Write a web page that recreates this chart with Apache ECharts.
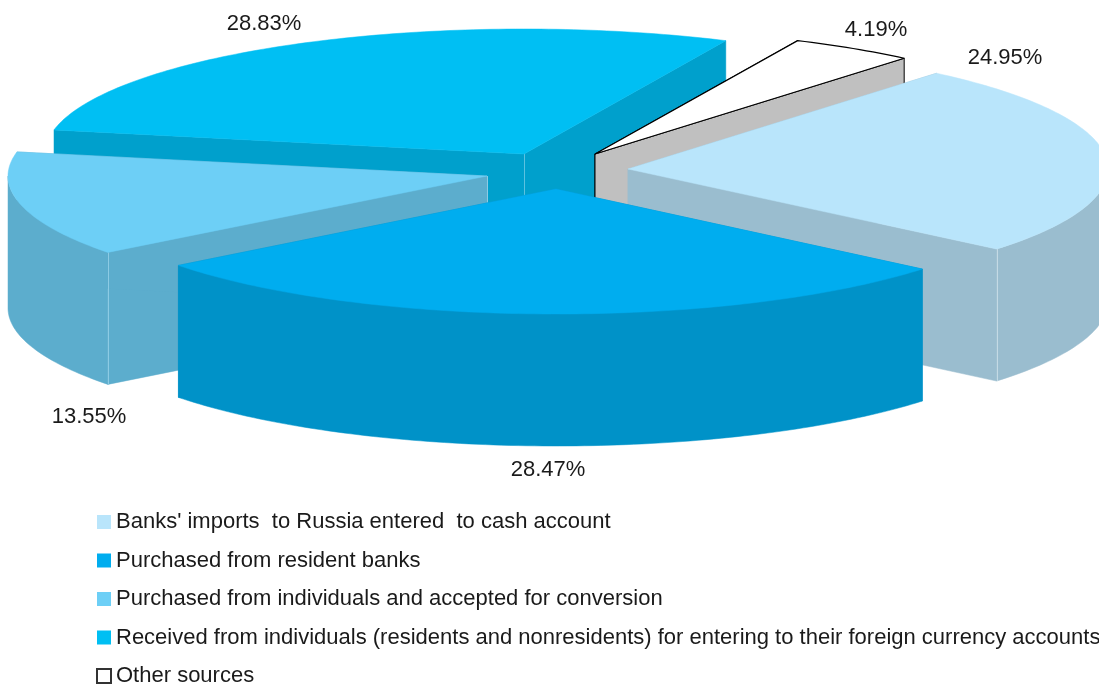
<!DOCTYPE html>
<html>
<head>
<meta charset="utf-8">
<style>html,body{margin:0;padding:0;background:#fff;overflow:hidden}#chart{width:1099px;height:684px}</style>
<script src="https://cdn.jsdelivr.net/npm/echarts@6/dist/echarts.min.js"></script>
</head>
<body>
<div id="chart"></div>
<script>
// Data
const categories = [
  "Banks' imports  to Russia entered  to cash account",
  "Purchased from resident banks",
  "Purchased from individuals and accepted for conversion",
  "Received from individuals (residents and nonresidents) for entering to their foreign currency accounts",
  "Other sources"
];
const shares = [24.95, 28.47, 13.55, 28.83, 4.19];

// Styles
const topColors  = ['#B9E5FB', '#00ADEF', '#6DCFF6', '#00BFF3', '#FFFFFF'];
const wallColors = ['#9ABDCF', '#0092C8', '#5CADCD', '#00A0CC', '#C0C0C0'];
const cornerColors = ['#C4DAE5', null, '#8CCBE4', '#5CC2E0', null];
const outlineColors = [null, null, null, null, '#000000'];

// Layout of the exploded 3D pie
const apexX = [628, 556, 487, 524, 595];
const apexY = [169, 189, 176, 154, 154];
const radiusX = [480, 477, 479, 479, 481];
const radiusY = 125;
const depth = 132;
const startDeg = -50;
const drawOrder = [5, 9, 6, 3, 4];
const labelX = [1005, 548, 89, 264, 876];
const labelY = [58, 470, 417, 24, 30];
const fontFamily = "'Liberation Sans', Arial, sans-serif";

const total = shares.reduce((a, b) => a + b, 0);
const rad = d => d * Math.PI / 180;

function renderSlice(i, api) {
  const value = api.value(0);
  const before = shares.slice(0, i).reduce((a, b) => a + b, 0);
  const a0 = startDeg + before / total * 360;
  const a1 = a0 + value / total * 360;
  const cx = apexX[i], cy = apexY[i], rx = radiusX[i];
  const pt = (deg, dz) => [cx + rx * Math.cos(rad(deg)), cy + radiusY * Math.sin(rad(deg)) + (dz || 0)];
  const arc = (from, to, dz) => {
    const out = [], n = Math.max(2, Math.ceil(Math.abs(to - from)));
    for (let k = 0; k <= n; k++) out.push(pt(from + (to - from) * k / n, dz));
    return out;
  };
  const wallStyle = { fill: wallColors[i], stroke: outlineColors[i] || wallColors[i], lineWidth: outlineColors[i] ? 1 : 0.5 };
  const children = [];
  // radial walls
  [a0, a1].forEach(a => {
    const p = pt(a);
    children.push({ type: 'polygon', shape: { points: [[cx, cy], p, [p[0], p[1] + depth], [cx, cy + depth]] }, style: wallStyle });
  });
  // front part of the rim
  const from = Math.max(a0, 0), to = Math.min(a1, 180);
  if (to > from) {
    children.push({ type: 'polygon', shape: { points: arc(from, to, 0).concat(arc(to, from, depth)) }, style: wallStyle });
  }
  // thin highlights on the vertical corners
  if (cornerColors[i]) {
    const corner = (x, y) => children.push({
      type: 'line', shape: { x1: x, y1: y, x2: x, y2: y + depth },
      style: { stroke: cornerColors[i], lineWidth: 1 }
    });
    if (i === 0) { const p = pt(a1); corner(Math.round(p[0]) + 0.5, p[1]); }
    if (i === 2) { const p = pt(a0); corner(Math.round(p[0]) + 0.5, p[1]); corner(cx + 0.5, cy); }
    if (i === 3) { corner(cx + 0.5, cy); }
  }
  // top face
  children.push({
    type: 'polygon',
    shape: { points: [[cx, cy]].concat(arc(a0, a1, 0)) },
    style: { fill: topColors[i], stroke: outlineColors[i] || topColors[i], lineWidth: outlineColors[i] ? 1.2 : 0.5, lineJoin: 'round' }
  });
  // percentage label
  children.push({
    type: 'text',
    style: {
      x: labelX[i], y: labelY[i], text: value.toFixed(2) + '%',
      fill: '#1a1a1a', font: "22px " + fontFamily, align: 'center', verticalAlign: 'middle'
    }
  });
  return { type: 'group', children };
}

const series = categories.map((name, i) => ({
  type: 'custom',
  name,
  coordinateSystem: 'none',
  z: drawOrder[i],
  silent: true,
  clip: false,
  data: [[shares[i]]],
  itemStyle: outlineColors[i]
    ? { color: topColors[i], borderColor: '#333333', borderWidth: 0.7 }
    : { color: topColors[i] },
  renderItem: (params, api) => renderSlice(i, api)
}));

const chart = echarts.init(document.getElementById('chart'), null, { renderer: 'canvas' });
chart.setOption({
  backgroundColor: '#fff',
  animation: false,
  legend: {
    orient: 'vertical',
    left: 96,
    top: 511,
    width: 1100,
    height: 190,
    padding: 0,
    itemWidth: 14,
    itemHeight: 14,
    itemGap: 16.5,
    icon: 'rect',
    selectedMode: false,
    data: categories,
    textStyle: { fontFamily, fontSize: 22, color: '#1a1a1a', lineHeight: 20 }
  },
  series
});
</script>
</body>
</html>
